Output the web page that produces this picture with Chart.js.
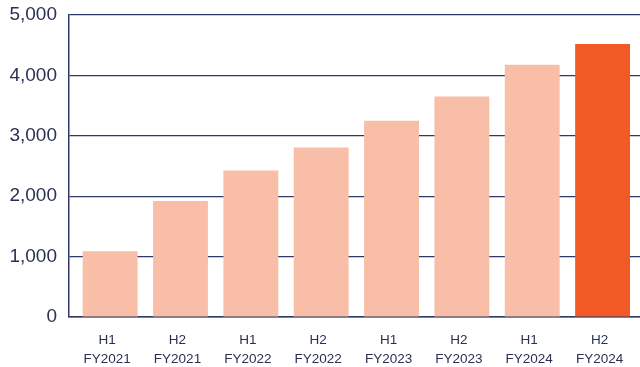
<!DOCTYPE html>
<html>
<head>
<meta charset="utf-8">
<script src="https://cdn.jsdelivr.net/npm/chart.js@4"></script>
<style>
  html, body { margin: 0; padding: 0; background: #fff; }
  #wrap { width: 640px; height: 367px; }
</style>
</head>
<body>
<div id="wrap"><canvas id="chart1"></canvas></div>
<script>
var categories = [['H1', 'FY2021'], ['H2', 'FY2021'], ['H1', 'FY2022'], ['H2', 'FY2022'],
                  ['H1', 'FY2023'], ['H2', 'FY2023'], ['H1', 'FY2024'], ['H2', 'FY2024']];
var values = [1090, 1920, 2425, 2805, 3250, 3650, 4175, 4520];
var yTicks = [0, 1000, 2000, 3000, 4000, 5000];

var barColors = values.map(function (v, i) {
  return i === values.length - 1 ? '#f15a24' : '#f8bea8';
});
var points = values.map(function (v, i) { return { x: i, y: v }; });

var navy = '#2b3a67';
var graph = document.getElementById('chart1');

var myChart = new Chart(graph, {
  type: 'bar',
  data: {
    datasets: [{
      data: points,
      backgroundColor: barColors,
      barPercentage: 0.78,
      categoryPercentage: 1
    }]
  },
  options: {
    responsive: true,
    maintainAspectRatio: false,
    animation: false,
    layout: { autoPadding: false, padding: { top: 15, right: 0, left: 0, bottom: 0 } },
    plugins: { legend: { display: false }, tooltip: { enabled: false } },
    scales: {
      x: {
        type: 'linear',
        offset: false,
        min: -0.585,
        max: 7.532,
        grid: { display: false },
        border: { display: true, color: navy, width: 1.5 },
        afterBuildTicks: function (scale) {
          scale.ticks = categories.map(function (c, i) { return { value: i }; });
        },
        ticks: {
          autoSkip: false,
          color: '#2a3150',
          font: { family: 'Liberation Sans, Arial, sans-serif', size: 13.5, lineHeight: 1.4 },
          padding: 6,
          labelOffset: -3,
          maxRotation: 0,
          callback: function (v) { return categories[v]; }
        },
        afterFit: function (scale) {
          scale.height = 50;
          scale.paddingLeft = 0;
          scale.paddingRight = 0;
        }
      },
      y: {
        min: 0,
        max: 5000,
        z: 1,
        afterBuildTicks: function (scale) {
          scale.ticks = yTicks.map(function (v) { return { value: v }; });
        },
        grid: { color: navy, lineWidth: 1.2, drawTicks: false },
        border: { display: true, color: navy, width: 1.5 },
        ticks: {
          color: '#2a3150',
          font: { family: 'Liberation Sans, Arial, sans-serif', size: 19 },
          padding: 12,
          callback: function (v) { return v.toLocaleString('en-US'); }
        },
        afterFit: function (scale) {
          scale.width = 69;
          scale.paddingTop = 0;
          scale.paddingBottom = 0;
        }
      }
    }
  }
});
</script>
</body>
</html>
